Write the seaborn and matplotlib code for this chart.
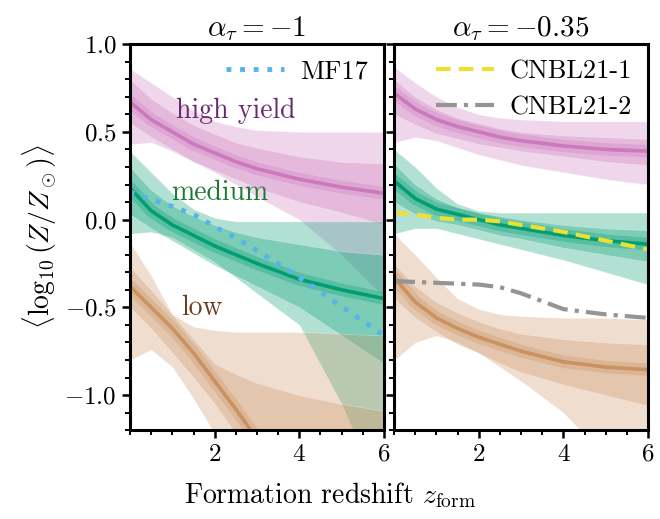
import matplotlib
matplotlib.use('Agg')
import matplotlib.pyplot as plt
import seaborn as sns
import pandas as pd
from matplotlib.ticker import MultipleLocator

# formation redshift grid
z = [0, 0.5, 1, 1.5, 2, 2.5, 3, 4, 5, 6]

# ---- alpha_tau = -1 (left panel) ----
high_L = [0.67, 0.57, 0.50, 0.43, 0.38, 0.33, 0.29, 0.23, 0.185, 0.15]
high_L_out_hi = [0.86, 0.78, 0.70, 0.62, 0.56, 0.53, 0.51, 0.50, 0.50, 0.50]
high_L_out_lo = [0.43, 0.44, 0.39, 0.33, 0.27, 0.20, 0.13, 0.0, -0.20, -0.44]
high_L_mid_hi = [0.80, 0.69, 0.61, 0.54, 0.49, 0.44, 0.41, 0.36, 0.33, 0.32]
high_L_mid_lo = [0.55, 0.47, 0.40, 0.33, 0.28, 0.23, 0.18, 0.10, 0.04, -0.03]

med_L = [0.18, 0.05, -0.03, -0.09, -0.15, -0.20, -0.25, -0.34, -0.40, -0.45]
med_L_out_hi = [0.39, 0.27, 0.15, 0.06, 0.01, -0.01, -0.01, -0.01, -0.01, -0.01]
med_L_out_lo = [-0.08, -0.07, -0.10, -0.17, -0.24, -0.33, -0.42, -0.60, -1.05, -1.60]
med_L_mid_hi = [0.30, 0.17, 0.08, 0.02, -0.03, -0.07, -0.10, -0.14, -0.18, -0.20]
med_L_mid_lo = [0.03, -0.05, -0.12, -0.19, -0.26, -0.32, -0.38, -0.50, -0.66, -0.82]

low_L = [-0.38, -0.50, -0.62, -0.76, -0.92, -1.08, -1.25, -1.60, -1.95, -2.30]
low_L_out_hi = [-0.13, -0.32, -0.54, -0.61, -0.63, -0.64, -0.64, -0.64, -0.65, -0.66]
low_L_out_lo = [-0.80, -0.74, -0.84, -1.02, -1.22, -1.40, -1.60, -2.00, -2.40, -2.80]
low_L_mid_hi = [-0.27, -0.40, -0.54, -0.68, -0.82, -0.88, -0.93, -1.00, -1.05, -1.09]
low_L_mid_lo = [-0.50, -0.62, -0.76, -0.90, -1.05, -1.22, -1.40, -1.75, -2.10, -2.50]

mf17 = [0.16, 0.115, 0.075, 0.03, -0.04, -0.105, -0.175, -0.33, -0.495, -0.66]

# ---- alpha_tau = -0.35 (right panel) ----
high_R = [0.72, 0.63, 0.57, 0.53, 0.50, 0.47, 0.45, 0.42, 0.40, 0.39]
high_R_out_hi = [0.87, 0.78, 0.70, 0.64, 0.60, 0.58, 0.57, 0.56, 0.56, 0.56]
high_R_out_lo = [0.44, 0.47, 0.45, 0.41, 0.37, 0.34, 0.31, 0.27, 0.23, 0.20]
high_R_mid_hi = [0.80, 0.70, 0.63, 0.58, 0.55, 0.52, 0.50, 0.48, 0.47, 0.46]
high_R_mid_lo = [0.60, 0.54, 0.49, 0.46, 0.43, 0.41, 0.39, 0.36, 0.33, 0.31]

med_R = [0.22, 0.12, 0.06, 0.03, 0.0, -0.03, -0.05, -0.09, -0.12, -0.14]
med_R_out_hi = [0.40, 0.30, 0.18, 0.09, 0.05, 0.04, 0.04, 0.04, 0.04, 0.04]
med_R_out_lo = [-0.08, -0.05, -0.05, -0.08, -0.11, -0.14, -0.17, -0.23, -0.30, -0.37]
med_R_mid_hi = [0.32, 0.20, 0.12, 0.07, 0.04, 0.02, 0.0, -0.03, -0.05, -0.06]
med_R_mid_lo = [0.10, 0.03, -0.01, -0.03, -0.06, -0.09, -0.11, -0.16, -0.20, -0.24]

low_R = [-0.33, -0.47, -0.56, -0.62, -0.67, -0.71, -0.75, -0.81, -0.84, -0.855]
low_R_out_hi = [-0.08, -0.20, -0.33, -0.45, -0.51, -0.54, -0.55, -0.56, -0.56, -0.57]
low_R_out_lo = [-0.80, -0.70, -0.66, -0.70, -0.76, -0.84, -0.92, -1.10, -1.35, -1.60]
low_R_mid_hi = [-0.25, -0.38, -0.47, -0.53, -0.58, -0.62, -0.65, -0.68, -0.70, -0.71]
low_R_mid_lo = [-0.45, -0.56, -0.64, -0.71, -0.76, -0.82, -0.87, -0.94, -1.00, -1.06]

cnbl1 = [0.04, 0.03, 0.01, 0.0, 0.0, -0.01, -0.03, -0.07, -0.12, -0.17]
cnbl2 = [-0.35, -0.355, -0.36, -0.365, -0.37, -0.385, -0.42, -0.51, -0.54, -0.56]

titles = [r'$\alpha_\tau = -1$', r'$\alpha_\tau = -0.35$']

# colorblind palette
pal = sns.color_palette('colorblind')
c_high, c_med, c_low = pal[4], pal[2], pal[5]
c_mf, c_gray, c_yel = pal[9], pal[7], pal[8]

sns.set_theme(style='ticks')
plt.rcParams['font.family'] = 'cmr10'
plt.rcParams['mathtext.fontset'] = 'cm'
plt.rcParams['axes.formatter.use_mathtext'] = True
plt.rcParams['axes.unicode_minus'] = True
for k in ['text.color', 'axes.labelcolor', 'xtick.color', 'ytick.color', 'axes.edgecolor']:
    plt.rcParams[k] = 'black'


def draw_group(ax, center, out_hi, out_lo, mid_hi, mid_lo, color):
    ax.fill_between(z, out_lo, out_hi, color=color, alpha=0.3,
                    edgecolor=(1, 1, 1, 0.5), linewidth=0.6)
    ax.fill_between(z, mid_lo, mid_hi, color=color, alpha=0.3,
                    edgecolor=(1, 1, 1, 0.5), linewidth=0.6)
    # narrow darker band round the median
    sns.lineplot(x=z, y=center, ax=ax, color=color, lw=9, alpha=0.3)
    sns.lineplot(x=z, y=center, ax=ax, color=color, lw=2.6)


fig, axes = plt.subplots(1, 2, figsize=(6.6, 5.19), dpi=100, sharey=True)
fig.subplots_adjust(left=0.197, right=0.982, bottom=0.171, top=0.915, wspace=0.04)

ax = axes[0]
draw_group(ax, high_L, high_L_out_hi, high_L_out_lo, high_L_mid_hi, high_L_mid_lo, c_high)
draw_group(ax, med_L, med_L_out_hi, med_L_out_lo, med_L_mid_hi, med_L_mid_lo, c_med)
draw_group(ax, low_L, low_L_out_hi, low_L_out_lo, low_L_mid_hi, low_L_mid_lo, c_low)
sns.lineplot(x=z, y=mf17, ax=ax, color=c_mf, lw=3.5, ls=(0, (1, 1.8)), label='MF17')
ax.text(2.5, 0.62, 'high yield', color='#6a2a72', fontsize=20, ha='center', va='center')
ax.text(2.12, 0.15, 'medium', color='#1e7a32', fontsize=20, ha='center', va='center')
ax.text(1.7, -0.5, 'low', color='#6b3d1f', fontsize=20, ha='center', va='center')
ax.legend(loc='upper right', frameon=False, fontsize=19, handlelength=2.2,
          borderaxespad=0.2, handletextpad=0.6)

ax = axes[1]
draw_group(ax, high_R, high_R_out_hi, high_R_out_lo, high_R_mid_hi, high_R_mid_lo, c_high)
draw_group(ax, med_R, med_R_out_hi, med_R_out_lo, med_R_mid_hi, med_R_mid_lo, c_med)
draw_group(ax, low_R, low_R_out_hi, low_R_out_lo, low_R_mid_hi, low_R_mid_lo, c_low)
sns.lineplot(x=z, y=cnbl1, ax=ax, color=c_yel, lw=3, ls=(0, (3.5, 2)), label='CNBL21-1')
sns.lineplot(x=z, y=cnbl2, ax=ax, color=c_gray, lw=3, ls=(0, (5, 1.7, 1, 1.7)), label='CNBL21-2')
ax.legend(loc='upper right', frameon=False, fontsize=19, handlelength=2.2,
          borderaxespad=0.2, labelspacing=0.45, handletextpad=0.6)

for i, ax in enumerate(axes):
    ax.set_xlim(0, 6)
    ax.set_ylim(-1.2, 1.0)
    ax.set_xticks([2, 4, 6])
    ax.xaxis.set_minor_locator(MultipleLocator(0.5))
    ax.yaxis.set_major_locator(MultipleLocator(0.5))
    ax.yaxis.set_minor_locator(MultipleLocator(0.1))
    ax.tick_params(which='major', direction='out', length=6, width=1.8, labelsize=18)
    ax.tick_params(which='minor', direction='out', length=3.5, width=1.4)
    for s in ax.spines.values():
        s.set_linewidth(2.2)
    ax.set_title(titles[i], fontsize=21, pad=6)
    ax.set_xlabel('')
axes[1].tick_params(labelleft=False)
axes[0].set_ylabel(r'$\langle\log_{10}(Z/Z_\odot)\rangle$', fontsize=20, labelpad=4)
fig.text(0.5, 0.018, r'Formation redshift $z_\mathrm{form}$', fontsize=20,
         ha='center', va='bottom')

fig.savefig('out.png', dpi=100)
